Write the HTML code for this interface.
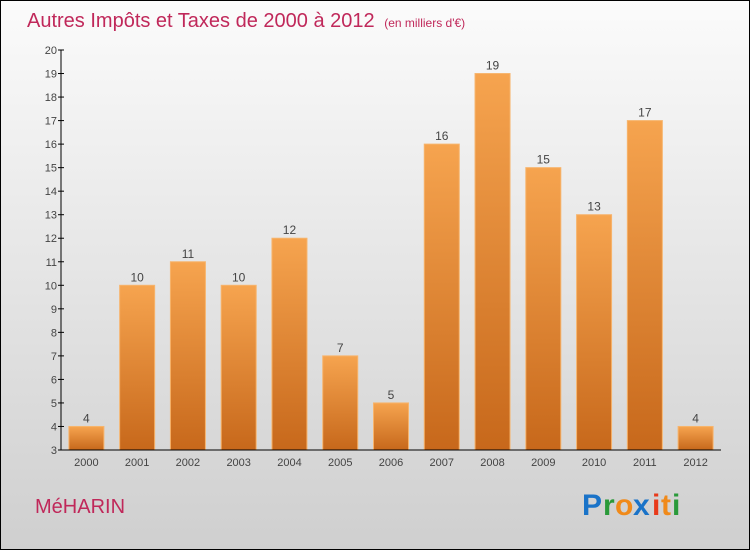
<!DOCTYPE html>
<html><head><meta charset="utf-8"><style>
body{margin:0;width:750px;height:550px;overflow:hidden;font-family:"Liberation Sans",sans-serif}
</style></head><body>
<svg width="750" height="550" xmlns="http://www.w3.org/2000/svg">
<defs>
<linearGradient id="bg" x1="0" y1="0" x2="0" y2="1"><stop offset="0" stop-color="#fbfbfb"/><stop offset="1" stop-color="#cfcfcf"/></linearGradient>
<linearGradient id="bar" x1="0" y1="0" x2="0" y2="1"><stop offset="0" stop-color="#f6a44f"/><stop offset="1" stop-color="#c7681b"/></linearGradient>
</defs>
<rect x="0.5" y="0.5" width="749" height="549" fill="url(#bg)" stroke="#000"/>
<text x="27" y="27" font-size="20" fill="#c0285a">Autres Impôts et Taxes de 2000 à 2012 <tspan font-size="12" dx="4">(en milliers d'€)</tspan></text>
<g id="yaxis"></g>
<g id="bars"></g>
<g id="xaxis"></g>
<text x="35" y="513" font-size="20" fill="#c0285a">MéHARIN</text>
<g font-size="30" font-weight="bold" font-family="'Liberation Sans',sans-serif">
<text x="582" y="515" fill="#1a73c8">P</text><text x="603" y="515" fill="#2a9a3a">r</text><text x="615" y="515" fill="#f08a1a">o</text><text x="633" y="515" fill="#1a73c8">x</text><text x="652" y="515" fill="#e83a1a">i</text><text x="661" y="515" fill="#f08a1a">t</text><text x="672" y="515" fill="#2a9a3a">i</text>
</g>
</svg>
<script>
const years=["2000","2001","2002","2003","2004","2005","2006","2007","2008","2009","2010","2011","2012"];
const values=[4,10,11,10,12,7,5,16,19,15,13,17,4];
const yTicks=[3,4,5,6,7,8,9,10,11,12,13,14,15,16,17,18,19,20];
const NS="http://www.w3.org/2000/svg";
const y0=450,y1=50,vmin=3,vmax=20,xl=61,xr=721;
const ys=v=>y0-(v-vmin)/(vmax-vmin)*(y0-y1);
const step=(xr-xl)/years.length;
const xc=i=>xl+step*(i+0.5);
function mk(t,a,p){const e=document.createElementNS(NS,t);for(const k in a)e.setAttribute(k,a[k]);p.appendChild(e);return e;}
const ya=document.getElementById('yaxis'),ba=document.getElementById('bars'),xa=document.getElementById('xaxis');
let l=mk('line',{x1:xl,y1:y1,x2:xl,y2:y0,stroke:'#000'},ya);


yTicks.forEach(v=>{
 const t=mk('line',{x1:xl-3,x2:xl+3,y1:ys(v),y2:ys(v),stroke:'#000'},ya);
 
 
 const tx=mk('text',{x:xl-4,y:ys(v)+4,'font-size':11,'text-anchor':'end',fill:'#444'},ya);
 tx.textContent=v;
 
 
});
values.forEach((v,i)=>{
 const w=35,x=xc(i)-w/2;
 const r=mk('rect',{x:x,y:ys(v),width:w,height:y0-ys(v),fill:'url(#bar)',stroke:'#f7b46c','stroke-width':1},ba);
 
 
 const t=mk('text',{x:xc(i),y:ys(v)-4,'font-size':12,'text-anchor':'middle',fill:'#444'},ba);
 t.textContent=v;
 
 
 const xt=mk('text',{x:xc(i),y:y0+16,'font-size':11,'text-anchor':'middle',fill:'#444'},xa);
 xt.textContent=years[i];
 
 
});
const xl2=mk('line',{x1:xl,y1:y0,x2:xr,y2:y0,stroke:'#000'},xa);


</script>
</body></html>
